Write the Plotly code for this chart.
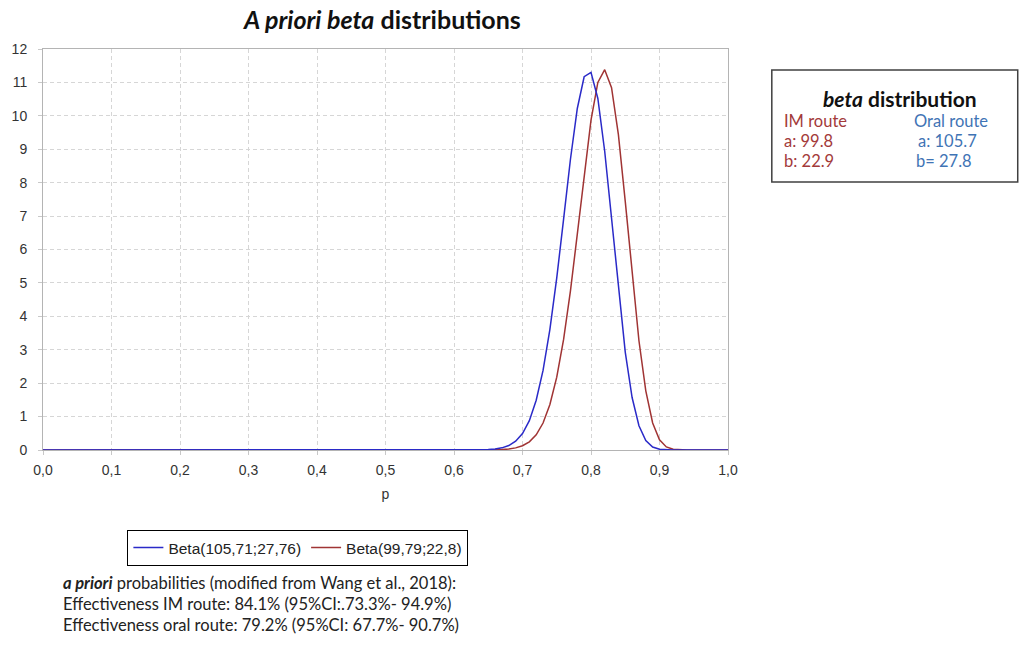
import plotly.graph_objects as go

# ---- data ----
p_oral = [0.0, 0.63, 0.64, 0.65, 0.66, 0.67, 0.68, 0.69, 0.70, 0.71, 0.72, 0.73, 0.74, 0.75,
          0.76, 0.77, 0.78, 0.79, 0.80, 0.81, 0.82, 0.83, 0.84, 0.85, 0.86, 0.87, 0.88,
          0.89, 0.90, 0.91, 0.92, 1.0]
dens_oral = [0.0, 0.002, 0.005, 0.012, 0.029, 0.064, 0.133, 0.263, 0.493, 0.879, 1.49, 2.38,
             3.61, 5.15, 6.91, 8.70, 10.22, 11.17, 11.30, 10.52, 8.94, 6.89, 4.77, 2.93, 1.57,
             0.727, 0.282, 0.090, 0.023, 0.004, 0.0, 0.0]

p_im = [0.0, 0.65, 0.66, 0.67, 0.68, 0.69, 0.70, 0.71, 0.72, 0.73, 0.74, 0.75, 0.76, 0.77,
        0.78, 0.79, 0.80, 0.81, 0.82, 0.83, 0.84, 0.85, 0.86, 0.87, 0.88, 0.89, 0.90,
        0.91, 0.92, 0.93, 0.94, 1.0]
dens_im = [0.0, 0.002, 0.005, 0.012, 0.028, 0.063, 0.127, 0.246, 0.456, 0.807, 1.36, 2.18,
           3.31, 4.76, 6.46, 8.25, 9.87, 11.00, 11.38, 10.84, 9.44, 7.44, 5.25, 3.27, 1.77,
           0.809, 0.306, 0.092, 0.021, 0.003, 0.0, 0.0]

name_oral = "Beta(105,71;27,76)"
name_im = "Beta(99,79;22,8)"

x_ticks = [0.0, 0.1, 0.2, 0.3, 0.4, 0.5, 0.6, 0.7, 0.8, 0.9, 1.0]
y_ticks = list(range(0, 13))

title_text = "<b><i>A priori beta</i> distributions</b>"
box_title = "<b><i>beta</i> distribution</b>"
im_lines = ["IM route", "a: 99.8", "b: 22.9"]
oral_lines = ["Oral route", "a: 105.7", "b= 27.8"]
note_lines = ["<b><i>a priori</i></b> probabilities (modified from Wang et al., 2018):",
              "Effectiveness IM route: 84.1% (95%CI:.73.3%- 94.9%)",
              "Effectiveness oral route: 79.2% (95%CI: 67.7%- 90.7%)"]

# ---- geometry (pixels of the 1030x647 page) ----
W, H = 1030, 647
L, R, T, B = 40, 728, 49, 450   # page px of plot area


def px(x):
    return (x - L) / (R - L)


def py(y):
    return (B - y) / (B - T)


BLUE = "#2a2ac8"
RED = "#a03434"
TXT_RED = "#a33a3a"
TXT_BLUE = "#3f74b5"
TICK_FONT = dict(family="Liberation Sans", size=14, color="#333333")

fig = go.Figure()
fig.add_trace(go.Scatter(x=p_im, y=dens_im, mode="lines", name=name_im,
                         line=dict(color=RED, width=1.5), cliponaxis=False, legendrank=2))
fig.add_trace(go.Scatter(x=p_oral, y=dens_oral, mode="lines", name=name_oral,
                         line=dict(color=BLUE, width=1.5), cliponaxis=False, legendrank=1))

axis_common = dict(showline=True, mirror=True, linecolor="#b4b4b4", linewidth=1,
                   showgrid=True, gridcolor="#d6d6d6", griddash="4px,3px", gridwidth=1,
                   zeroline=False, ticks="outside", ticklen=4, tickcolor="#c8c8c8",
                   tickfont=TICK_FONT)

fig.update_xaxes(range=[0, 1], tickvals=x_ticks, tickformat=".1f", ticklabelstandoff=3,
                 title=dict(text="p", font=TICK_FONT, standoff=12),
                 **axis_common)
fig.update_yaxes(range=[0, 12], tickvals=y_ticks, ticklabelstandoff=8, **axis_common)

annotations = [
    dict(text=title_text, x=px(380), y=py(19), xref="paper", yref="paper",
         xanchor="center", yanchor="middle",
         showarrow=False, font=dict(family="Lato", size=25, color="#111111")),
    dict(text=box_title, x=px(901), y=py(98), xref="paper", yref="paper",
         xanchor="center", yanchor="middle",
         showarrow=False, font=dict(family="Lato", size=21, color="#111111")),
]
rows_y = [121, 141, 161]
for i, t in enumerate(im_lines):
    annotations.append(dict(text=t, x=px(782), y=py(rows_y[i]), xref="paper", yref="paper",
                            xanchor="left", yanchor="middle", showarrow=False,
                            font=dict(family="Lato", size=16.5, color=TXT_RED)))
oral_x = [913, 917, 915]
for i, t in enumerate(oral_lines):
    annotations.append(dict(text=t, x=px(oral_x[i]), y=py(rows_y[i]), xref="paper", yref="paper",
                            xanchor="left", yanchor="middle", showarrow=False,
                            font=dict(family="Lato", size=16.5, color=TXT_BLUE)))
note_y = [583, 604, 625]
for i, t in enumerate(note_lines):
    annotations.append(dict(text=t, x=px(58), y=py(note_y[i]), xref="paper", yref="paper",
                            xanchor="left", yanchor="middle", showarrow=False,
                            font=dict(family="Lato", size=16.5, color="#222222")))

shapes = [dict(type="rect", xref="paper", yref="paper", x0=px(772), x1=px(1019),
               y0=py(182), y1=py(70), line=dict(color="#404040", width=1.5))]

fig.update_layout(
    width=W, height=H, autosize=False,
    margin=dict(l=L, r=W - R, t=T, b=H - B, pad=0),
    paper_bgcolor="white", plot_bgcolor="white",
    separators=",.",
    showlegend=True,
    legend=dict(orientation="h", x=px(296), xanchor="center", y=py(530), yanchor="top",
                bordercolor="#000000", borderwidth=1, bgcolor="white",
                font=dict(family="Liberation Sans", size=15.5, color="#222222"),
                itemwidth=30, tracegroupgap=0),
    annotations=annotations,
    shapes=shapes,
)

fig.write_html("out.html", config={"displayModeBar": False},
               post_script="document.body.style.margin='0px';document.body.style.overflow='hidden';")
